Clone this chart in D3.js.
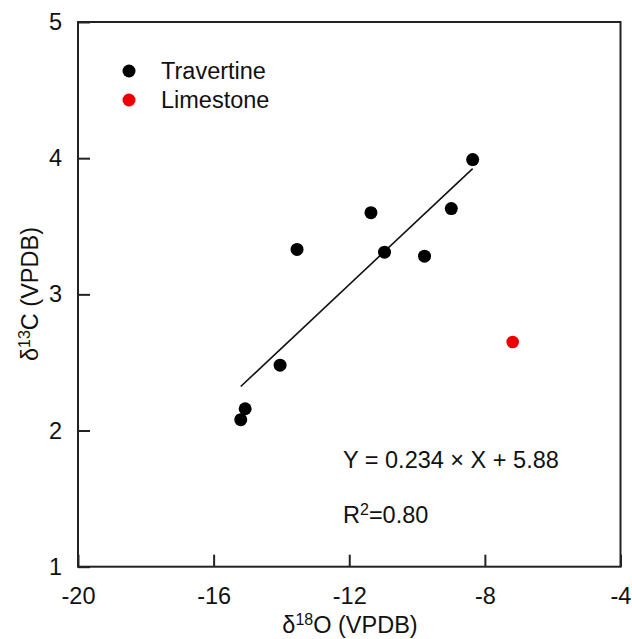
<!DOCTYPE html>
<html>
<head>
<meta charset="utf-8">
<script src="https://cdn.jsdelivr.net/npm/d3@7"></script>
<style>
  body { margin: 0; background: #fff; }
  svg { display: block; }
  text { font-family: Arial, "Liberation Sans", sans-serif; fill: #111; }
</style>
</head>
<body>
<svg id="chart" width="632" height="639"></svg>
<script>
// ---- data ----
const seriesNames = ["Travertine", "Limestone"];
const seriesColors = ["#000000", "#ee0000"];
const travertineX = [-15.20, -15.07, -14.04, -13.54, -11.36, -10.96, -9.78, -8.99, -8.36];
const travertineY = [2.08, 2.16, 2.48, 3.33, 3.60, 3.31, 3.28, 3.63, 3.99];
const limestoneX = [-7.18];
const limestoneY = [2.65];
const xTicks = [-20, -16, -12, -8, -4];
const yTicks = [1, 2, 3, 4, 5];
const fitSlope = 0.234;
const fitIntercept = 5.88;
const equationText = "Y = 0.234 \u00D7 X + 5.88";
const r2Value = "0.80";

// ---- layout ----
const svg = d3.select("#chart");
const mLeft = 78, mRight = 620.5, mTop = 22, mBottom = 566.7;
const x = d3.scaleLinear().domain([-20, -4]).range([mLeft, mRight]);
const y = d3.scaleLinear().domain([1, 5]).range([mBottom, mTop]);
const frameColor = "#222";
const fs = 23.5, fsSup = 16;

// axes
const xAxis = svg.append("g").attr("transform", `translate(0,${mBottom})`)
  .call(d3.axisBottom(x).tickValues(xTicks).tickSize(-12).tickPadding(21).tickFormat(d => String(d)));
const yAxis = svg.append("g").attr("transform", `translate(${mLeft},0)`)
  .call(d3.axisLeft(y).tickValues(yTicks).tickSize(-12).tickPadding(16).tickFormat(d => String(d)));
[xAxis, yAxis].forEach(a => {
  a.select(".domain").remove();
  a.selectAll(".tick line").attr("stroke", frameColor).attr("stroke-width", 2);
  a.selectAll(".tick text").attr("font-size", fs).attr("font-family", "Arial, 'Liberation Sans', sans-serif").attr("fill", "#111");
});

// frame
svg.append("rect")
  .attr("x", mLeft).attr("y", mTop)
  .attr("width", mRight - mLeft).attr("height", mBottom - mTop)
  .attr("fill", "none").attr("stroke", frameColor).attr("stroke-width", 2);

// regression line
const xMin = d3.min(travertineX), xMax = d3.max(travertineX);
svg.append("line")
  .attr("x1", x(xMin)).attr("y1", y(fitSlope * xMin + fitIntercept))
  .attr("x2", x(xMax)).attr("y2", y(fitSlope * xMax + fitIntercept))
  .attr("stroke", "#111").attr("stroke-width", 1.6);

// points
const trav = travertineX.map((v, i) => ({x: v, y: travertineY[i]}));
const lime = limestoneX.map((v, i) => ({x: v, y: limestoneY[i]}));
svg.append("g").selectAll("circle").data(trav).join("circle")
  .attr("cx", d => x(d.x)).attr("cy", d => y(d.y)).attr("r", 6.5)
  .attr("fill", seriesColors[0]);
svg.append("g").selectAll("circle").data(lime).join("circle")
  .attr("cx", d => x(d.x)).attr("cy", d => y(d.y)).attr("r", 6.3)
  .attr("fill", seriesColors[1]);

// legend
const legend = svg.append("g");
seriesNames.forEach((name, i) => {
  const ly = 71 + i * 29;
  legend.append("circle").attr("cx", 129).attr("cy", ly).attr("r", 6.5).attr("fill", seriesColors[i]);
  legend.append("text").attr("x", 161).attr("y", ly).attr("dy", "0.35em")
    .attr("font-size", fs).text(name);
});

// equation
svg.append("text").attr("x", 343).attr("y", 468).attr("font-size", fs).text(equationText);
const r2 = svg.append("text").attr("x", 343).attr("y", 523).attr("font-size", fs);
r2.append("tspan").text("R");
r2.append("tspan").attr("font-size", fsSup).attr("dy", -8).text("2");
r2.append("tspan").attr("dy", 8).text("=" + r2Value);

// axis titles
const xt = svg.append("text").attr("x", 350).attr("y", 633).attr("text-anchor", "middle").attr("font-size", fs);
xt.append("tspan").text("\u03B4");
xt.append("tspan").attr("font-size", fsSup).attr("dy", -8).text("18");
xt.append("tspan").attr("dy", 8).text("O (VPDB)");

const yt = svg.append("text").attr("transform", "translate(38,294) rotate(-90)")
  .attr("text-anchor", "middle").attr("font-size", fs);
yt.append("tspan").text("\u03B4");
yt.append("tspan").attr("font-size", fsSup).attr("dy", -8).text("13");
yt.append("tspan").attr("dy", 8).text("C (VPDB)");
</script>
</body>
</html>
